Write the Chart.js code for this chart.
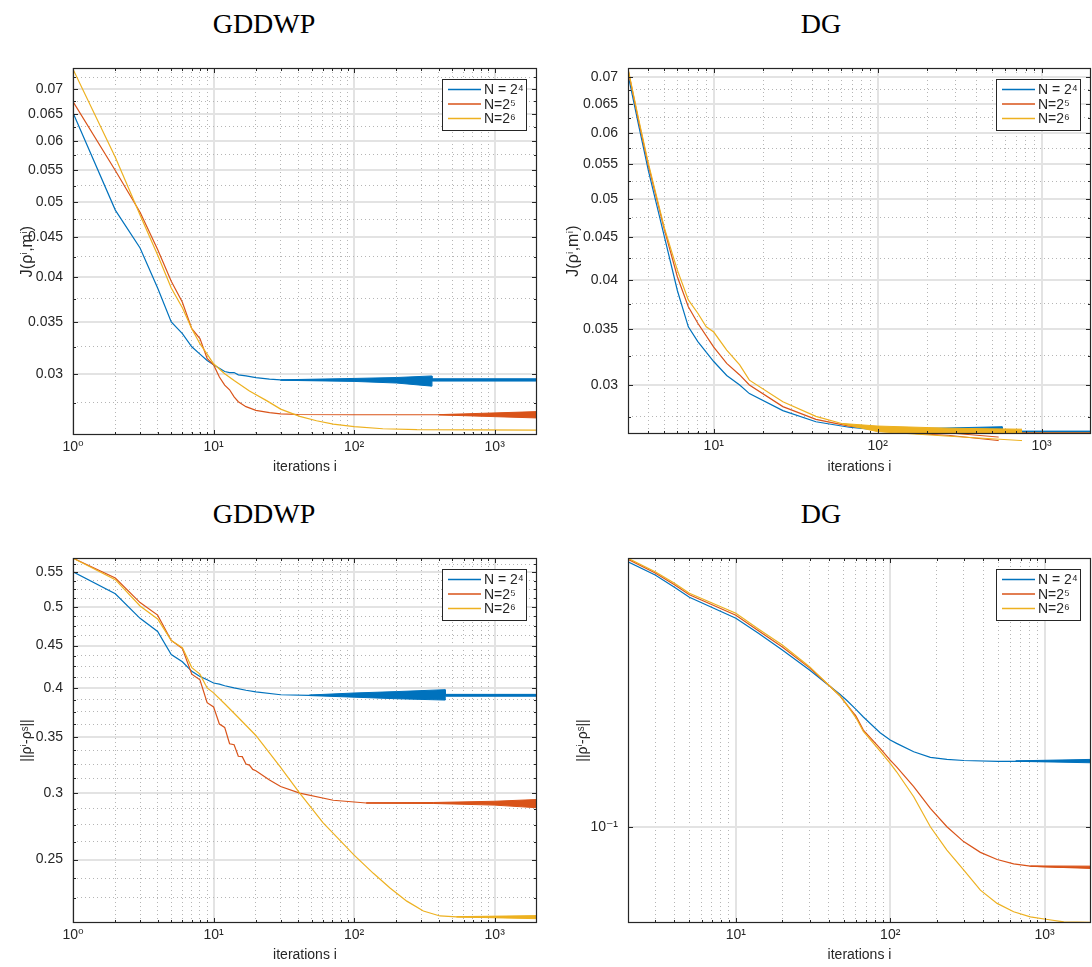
<!DOCTYPE html>
<html>
<head>
<meta charset="utf-8">
<script src="https://cdn.jsdelivr.net/npm/chart.js@4.4.0/dist/chart.umd.min.js"></script>
<style>
  body { margin: 0; background: #fff; width: 1092px; height: 967px; position: relative; overflow: hidden; }
  .panel { position: absolute; width: 546px; }
  .ttl { position: absolute; width: 240px; text-align: center; color: #000;
         font-family: 'Liberation Serif', 'DejaVu Serif', serif; font-size: 28px; line-height: 32px; }
</style>
</head>
<body>
<div class="ttl" style="left:144px;top:8px">GDDWP</div>
<div class="ttl" style="left:701px;top:8px">DG</div>
<div class="ttl" style="left:144px;top:498px">GDDWP</div>
<div class="ttl" style="left:701px;top:498px">DG</div>
<div class="panel" style="left:0;top:0;height:483px"><canvas id="c1"></canvas></div>
<div class="panel" style="left:546px;top:0;height:483px"><canvas id="c2"></canvas></div>
<div class="panel" style="left:0;top:483px;height:484px"><canvas id="c3"></canvas></div>
<div class="panel" style="left:546px;top:483px;height:484px"><canvas id="c4"></canvas></div>
<script>
// ---- data ----
var legendLabels = ['N = 2⁴', 'N=2⁵', 'N=2⁶'];
var lineColors = ['#0072BD', '#D95319', '#EDB120'];

var xMajor = [1, 10, 100, 1000];
var xMajorLabels = ['10⁰', '10¹', '10²', '10³'];
var xMinor = [2, 3, 4, 5, 6, 7, 8, 9, 20, 30, 40, 50, 60, 70, 80, 90, 200, 300, 400, 500, 600, 700, 800, 900];

var jTicks = [0.03, 0.035, 0.04, 0.045, 0.05, 0.055, 0.06, 0.065, 0.07];
var jLabels = ['0.03', '0.035', '0.04', '0.045', '0.05', '0.055', '0.06', '0.065', '0.07'];
var jMinor = [0.0275, 0.0325, 0.0375, 0.0425, 0.0475, 0.0525, 0.0575, 0.0625, 0.0675, 0.0725];
var rhoTicks = [0.25, 0.3, 0.35, 0.4, 0.45, 0.5, 0.55];
var rhoLabels = ['0.25', '0.3', '0.35', '0.4', '0.45', '0.5', '0.55'];
var rhoMinor = [0.225, 0.2375, 0.2625, 0.275, 0.2875, 0.3125, 0.325, 0.3375, 0.3625, 0.375, 0.3875,
                0.4125, 0.425, 0.4375, 0.4625, 0.475, 0.4875, 0.5125, 0.525, 0.5375, 0.5625];
var rhoDgTicks = [0.1];
var rhoDgLabels = ['10⁻¹'];

// GDDWP, J(rho,m)
var itJg4 = [1,2,3,4,5,6,7,8,9,10,11,12,13,14,15,17,20,25,30,40,100,357,2000];
var Jg4 = [0.0652,0.0488,0.0436,0.0387,0.0350,0.0338,0.0325,0.0318,0.0312,0.0308,0.0305,0.0302,0.0301,0.0301,0.0299,0.0298,0.02965,0.02952,0.02946,0.02944,0.02944,0.02945,0.02945];
var itJg4band = [30,100,200,357,358,2000];
var Jg4hi = [0.02946,0.02958,0.02966,0.02980,0.02955,0.02955];
var Jg4lo = [0.02942,0.02932,0.02918,0.02891,0.02935,0.02935];

var itJg5 = [1,2,3,4,5,6,7,8,9,10,11,12,13,14,15,17,20,25,30,40,100,400,2000];
var Jg5 = [0.0674,0.0549,0.0485,0.0434,0.0395,0.0371,0.0343,0.0333,0.0314,0.0308,0.0297,0.0290,0.0286,0.0280,0.0276,0.0272,0.0269,0.02672,0.02662,0.02657,0.02655,0.02655,0.02655];
var itJg5band = [400,2000];
var Jg5hi = [0.02656,0.0268];
var Jg5lo = [0.02654,0.0263];

var itJg6 = [1,2,3,4,5,6,7,8,9,10,12,14,18,24,30,41,54,71,100,160,280,2000];
var Jg6 = [0.0742,0.0571,0.0481,0.0427,0.0387,0.0365,0.0343,0.0328,0.0318,0.0309,0.0300,0.0294,0.0285,0.02767,0.0270,0.02642,0.02608,0.02582,0.02563,0.02547,0.0254,0.02537];

// DG, J(rho,m)
var itJd4 = [3,3.5,4,5,6,7,8,10,12,14.4,16.5,26.4,42,67,100,574,575,2000];
var Jd4 = [0.0704,0.0610,0.0540,0.0451,0.0389,0.0352,0.0338,0.0320,0.0308,0.0300,0.0293,0.02796,0.02712,0.02671,0.02652,0.02657,0.02639,0.02639];
var itJd4band = [100,574,575,2000];
var Jd4hi = [0.02654,0.02675,0.02643,0.02643];
var Jd4lo = [0.0265,0.02639,0.02634,0.02634];

var itJd5 = [3,3.5,4,5,6,7,8,10,12,14.4,16.5,26.4,42,67,100,170,272,547,548,2000];
var Jd5 = [0.0714,0.0617,0.0548,0.0460,0.0404,0.0372,0.03555,0.0333,0.03184,0.03084,0.0300,0.02827,0.0273,0.0268,0.02657,0.02631,0.02621,0.02587,0.0263,0.0263];
var itJd5band = [100,170,272,547];
var Jd5hi = [0.02658,0.02638,0.02630,0.02600];
var Jd5lo = [0.02656,0.02625,0.02612,0.02575];

var itJd6 = [3,3.5,4,5,6,7,8,9,10,12,14.4,16.5,26.4,42,61,100,272,759,760,2000];
var Jd6 = [0.0716,0.0620,0.0551,0.0462,0.04114,0.0379,0.03654,0.0352,0.0347,0.03302,0.0317,0.0304,0.02865,0.02752,0.02697,0.0266,0.02635,0.02616,0.02627,0.02627];
var itJd6band = [61,100,272,759];
var Jd6hi = [0.02699,0.0268,0.02664,0.02657];
var Jd6lo = [0.02695,0.02639,0.02606,0.02575];

// GDDWP, ||rho - rho_s||
var itRg4 = [1,2,3,4,5,6,7,8,9,10,11,12,14,17,20,30,48,2000];
var Rg4 = [0.551,0.5188,0.4849,0.4677,0.4391,0.4304,0.4192,0.4134,0.4096,0.406,0.4047,0.4029,0.4005,0.398,0.3963,0.3931,0.3925,0.3925];
var itRg4band = [48,100,200,444,445,2000];
var Rg4hi = [0.3928,0.3950,0.3965,0.3986,0.3935,0.3935];
var Rg4lo = [0.3922,0.3905,0.3888,0.3874,0.3915,0.3915];

var itRg5 = [1,2,3,4,5,6,7,8,9,10,11,12,13,14,15,16,17,18,19,20,25,30,41,71,122,367,2000];
var Rg5 = [0.572,0.5417,0.5063,0.4892,0.4563,0.4463,0.416,0.4096,0.3846,0.3802,0.3627,0.3594,0.3436,0.3427,0.332,0.3316,0.3249,0.324,0.3202,0.3191,0.3111,0.3055,0.300,0.2942,0.292,0.292,0.2915];
var itRg5band = [122,367,1000,2000];
var Rg5hi = [0.2921,0.2924,0.2934,0.2948];
var Rg5lo = [0.2919,0.2916,0.2903,0.2882];

var itRg6 = [1,2,3,4,5,6,7,8,9,10,12,15,20,30,35,41,60,100,137,180,237,311,408,535,2000];
var Rg6 = [0.572,0.5393,0.5017,0.484,0.4563,0.4475,0.4235,0.416,0.4005,0.3951,0.3835,0.3693,0.3515,0.322,0.311,0.300,0.2767,0.253,0.2407,0.2312,0.223,0.217,0.2141,0.2136,0.2134];
var itRg6band = [535,2000];
var Rg6hi = [0.2137,0.2143];
var Rg6lo = [0.2135,0.2125];

// DG, ||rho - rho_s||
var itRd4 = [2,3,4,5,10,14,20,30,41,47,52,60,67,86,100,110,142,182,233,300,500,2000];
var Rd4 = [0.489,0.4517,0.4196,0.3952,0.3484,0.3185,0.2882,0.2556,0.2313,0.2215,0.2136,0.202,0.193,0.1756,0.1681,0.1648,0.1567,0.1515,0.1497,0.1487,0.148,0.1482];
var itRd4band = [650,2000];
var Rd4hi = [0.1484,0.1497];
var Rd4lo = [0.1480,0.1467];

var itRd5 = [2,3,4,5,10,14,20,30,41,47,52,60,67,86,100,110,142,182,233,299,384,493,631,809,1334,2000];
var Rd5 = [0.496,0.457,0.426,0.401,0.355,0.3235,0.2935,0.2590,0.2313,0.2195,0.2085,0.194,0.1784,0.160,0.1491,0.1432,0.1271,0.1116,0.100,0.0915,0.0858,0.0822,0.0801,0.0790,0.0784,0.0784];
var itRd5band = [809,2000];
var Rd5hi = [0.0791,0.0790];
var Rd5lo = [0.0789,0.0779];

var itRd6 = [2,3,4,5,10,14,20,30,41,47,52,60,67,86,100,110,142,182,233,299,384,493,631,809,1045,1334,2000];
var Rd6 = [0.4992,0.4607,0.4297,0.4047,0.3591,0.3268,0.297,0.2608,0.2313,0.2195,0.2085,0.192,0.177,0.1574,0.1462,0.139,0.1197,0.1,0.087,0.0772,0.0684,0.0632,0.0601,0.0583,0.0574,0.0566,0.0564];

// ---- helpers ----
Chart.defaults.font.family = "'Liberation Sans', Arial, 'DejaVu Sans', sans-serif";
Chart.defaults.font.size = 14;
Chart.defaults.color = '#262626';

function xy(its, vals) {
  return its.map(function (x, k) { return { x: x, y: vals[k] }; });
}
function line(its, vals, c, clip) {
  return { data: xy(its, vals), borderColor: lineColors[c], borderWidth: 1.2, pointRadius: 0,
           fill: false, tension: 0, clip: clip || 0 };
}
function band(its, hi, lo, c, clip) {
  return [
    { data: xy(its, hi), borderColor: lineColors[c], backgroundColor: lineColors[c], borderWidth: 1,
      pointRadius: 0, fill: '+1', tension: 0, clip: clip || 0 },
    { data: xy(its, lo), borderColor: lineColors[c], borderWidth: 1, pointRadius: 0,
      fill: false, tension: 0, clip: clip || 0 }
  ];
}
function pairs(values, labels, min, max) {
  return values.map(function (v, i) { return { value: v, label: labels[i] }; })
               .filter(function (t) { return t.value >= min && t.value <= max; });
}
function within(list, min, max) {
  return list.filter(function (v) { return v > min && v < max; });
}

// box, inward ticks and legend, MATLAB style
var axesBox = {
  id: 'axesBox',
  afterDatasetsDraw: function (chart) {
    var ctx = chart.ctx, a = chart.chartArea, s = chart.scales;
    ctx.save();
    ctx.strokeStyle = '#262626';
    ctx.lineWidth = 1;
    ctx.beginPath();
    [['x', 5], ['xm', 3]].forEach(function (d) {
      s[d[0]].ticks.forEach(function (t) {
        var p = Math.round(s[d[0]].getPixelForValue(t.value)) + 0.5;
        ctx.moveTo(p, a.bottom); ctx.lineTo(p, a.bottom - d[1]);
        ctx.moveTo(p, a.top); ctx.lineTo(p, a.top + d[1]);
      });
    });
    [['y', 5], ['ym', 3]].forEach(function (d) {
      s[d[0]].ticks.forEach(function (t) {
        var p = Math.round(s[d[0]].getPixelForValue(t.value)) + 0.5;
        ctx.moveTo(a.left, p); ctx.lineTo(a.left + d[1], p);
        ctx.moveTo(a.right, p); ctx.lineTo(a.right - d[1], p);
      });
    });
    ctx.stroke();
    ctx.lineWidth = 1.2;
    ctx.strokeRect(a.left + 0.5, a.top + 0.5, a.right - a.left - 1, a.bottom - a.top - 1);
    ctx.restore();
  },
  afterDraw: function (chart) {
    var ctx = chart.ctx, a = chart.chartArea;
    var w = 84, h = 51, bx = a.right - 11 - w, by = a.top + 11;
    ctx.save();
    ctx.fillStyle = '#fff';
    ctx.fillRect(bx, by, w, h);
    ctx.strokeStyle = '#262626';
    ctx.lineWidth = 1;
    ctx.strokeRect(bx + 0.5, by + 0.5, w, h);
    ctx.font = "14px 'Liberation Sans', Arial, 'DejaVu Sans', sans-serif";
    ctx.textBaseline = 'middle';
    legendLabels.forEach(function (lab, k) {
      var y = by + 10.5 + 14.5 * k;
      ctx.strokeStyle = lineColors[k];
      ctx.lineWidth = 1.5;
      ctx.beginPath();
      ctx.moveTo(bx + 6, y); ctx.lineTo(bx + 39, y);
      ctx.stroke();
      ctx.fillStyle = '#262626';
      ctx.fillText(lab, bx + 42, y + 1);
    });
    ctx.restore();
  }
};

function panel(id, p) {
  var xMaj = pairs(xMajor, xMajorLabels, p.xmin, p.xmax);
  var yMaj = pairs(p.yTicks, p.yLabels, p.ymin, p.ymax);
  var xMin = within(xMinor, p.xmin, p.xmax);
  var yMin = within(p.yMinor, p.ymin, p.ymax);
  new Chart(document.getElementById(id), {
    type: 'line',
    data: { datasets: p.datasets },
    options: {
      responsive: true,
      maintainAspectRatio: false,
      animation: false,
      layout: { padding: { top: p.padTop, right: p.padRight, left: 0, bottom: 0 } },
      plugins: { legend: { display: false }, tooltip: { enabled: false } },
      scales: {
        x: {
          type: 'logarithmic', position: 'bottom', min: p.xmin, max: p.xmax,
          afterBuildTicks: function (ax) { ax.ticks = xMaj.map(function (t) { return { value: t.value }; }); },
          afterFit: function (ax) { ax.height = p.xH; },
          ticks: { autoSkip: false, maxRotation: 0, minRotation: 0, padding: 4,
                   callback: function (v, i) { return xMaj[i].label; } },
          grid: { color: '#e3e3e3', lineWidth: 2, drawTicks: false },
          border: { display: false },
          title: { display: true, text: 'iterations i', padding: { top: 0, bottom: p.xTitlePad } }
        },
        xm: {
          type: 'logarithmic', position: 'bottom', min: p.xmin, max: p.xmax,
          afterBuildTicks: function (ax) { ax.ticks = xMin.map(function (v) { return { value: v }; }); },
          afterFit: function (ax) { ax.height = 0; },
          ticks: { display: false },
          grid: { color: '#b5b5b5', lineWidth: 1, drawTicks: false },
          border: { display: false, dash: [1, 3] }
        },
        y: {
          type: 'logarithmic', position: 'left', min: p.ymin, max: p.ymax,
          afterBuildTicks: function (ax) { ax.ticks = yMaj.map(function (t) { return { value: t.value }; }); },
          afterFit: function (ax) { ax.width = p.yW; },
          ticks: { autoSkip: false, padding: 10,
                   callback: function (v, i) { return yMaj[i].label; } },
          grid: { color: '#e3e3e3', lineWidth: 2, drawTicks: false },
          border: { display: false },
          title: { display: true, text: p.yTitle, font: { size: p.yTitleSize },
                   padding: { top: p.yTitlePad, bottom: 0 } }
        },
        ym: {
          type: 'logarithmic', position: 'left', min: p.ymin, max: p.ymax,
          afterBuildTicks: function (ax) { ax.ticks = yMin.map(function (v) { return { value: v }; }); },
          afterFit: function (ax) { ax.width = 0; },
          ticks: { display: false },
          grid: { color: '#b5b5b5', lineWidth: 1, drawTicks: false },
          border: { display: false, dash: [1, 3] }
        }
      }
    },
    plugins: [axesBox]
  });
}

var below = { left: 0, top: 0, right: 0, bottom: 8 };

panel('c1', {
  xmin: 1, xmax: 2000, ymin: 0.02527, ymax: 0.07447,
  yTicks: jTicks, yLabels: jLabels, yMinor: jMinor, yTitle: 'J(ρⁱ,mⁱ)', yTitleSize: 16,
  padTop: 68, padRight: 9, yW: 73, xH: 48, yTitlePad: 17.5, xTitlePad: 7.5,
  datasets: [line(itJg6, Jg6, 2)]
    .concat(band(itJg5band, Jg5hi, Jg5lo, 1), [line(itJg5, Jg5, 1)])
    .concat(band(itJg4band, Jg4hi, Jg4lo, 0), [line(itJg4, Jg4, 0)])
});

panel('c2', {
  xmin: 3, xmax: 2000, ymin: 0.02622, ymax: 0.0717,
  yTicks: jTicks, yLabels: jLabels, yMinor: jMinor, yTitle: 'J(ρⁱ,mⁱ)', yTitleSize: 16,
  padTop: 68, padRight: 1, yW: 82, xH: 49, yTitlePad: 18, xTitlePad: 7.5,
  datasets: band(itJd6band, Jd6hi, Jd6lo, 2, below).concat([line(itJd6, Jd6, 2)])
    .concat(band(itJd5band, Jd5hi, Jd5lo, 1, below), [line(itJd5, Jd5, 1)])
    .concat(band(itJd4band, Jd4hi, Jd4lo, 0), [line(itJd4, Jd4, 0)])
});

panel('c3', {
  xmin: 1, xmax: 2000, ymin: 0.2134, ymax: 0.5723,
  yTicks: rhoTicks, yLabels: rhoLabels, yMinor: rhoMinor, yTitle: '||ρⁱ-ρˢ||', yTitleSize: 14,
  padTop: 75, padRight: 9, yW: 73, xH: 44, yTitlePad: 19, xTitlePad: 3.5,
  datasets: band(itRg6band, Rg6hi, Rg6lo, 2, below).concat([line(itRg6, Rg6, 2)])
    .concat(band(itRg5band, Rg5hi, Rg5lo, 1), [line(itRg5, Rg5, 1)])
    .concat(band(itRg4band, Rg4hi, Rg4lo, 0), [line(itRg4, Rg4, 0)])
});

panel('c4', {
  xmin: 2, xmax: 2000, ymin: 0.0562, ymax: 0.5,
  yTicks: rhoDgTicks, yLabels: rhoDgLabels, yMinor: [], yTitle: '||ρⁱ-ρˢ||', yTitleSize: 14,
  padTop: 75, padRight: 1, yW: 82, xH: 44, yTitlePad: 28.5, xTitlePad: 3.5,
  datasets: [line(itRd6, Rd6, 2)]
    .concat(band(itRd5band, Rd5hi, Rd5lo, 1), [line(itRd5, Rd5, 1)])
    .concat(band(itRd4band, Rd4hi, Rd4lo, 0), [line(itRd4, Rd4, 0)])
});
</script>
</body>
</html>
